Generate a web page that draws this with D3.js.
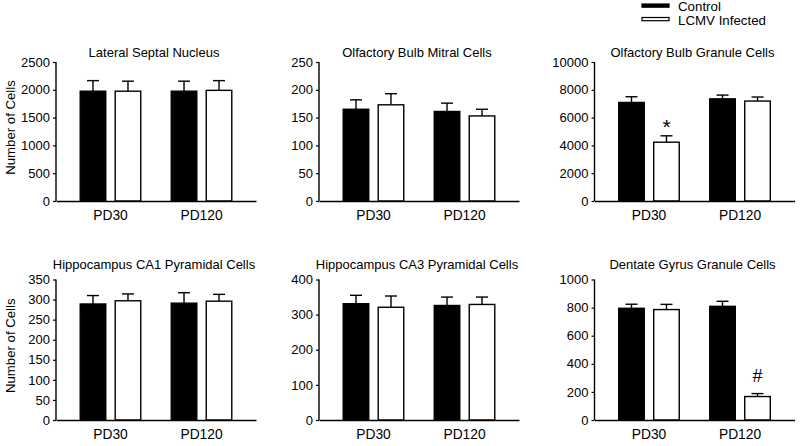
<!DOCTYPE html>
<html>
<head>
<meta charset="utf-8">
<script src="https://cdn.jsdelivr.net/npm/d3@7"></script>
<style>
  html, body { margin: 0; padding: 0; background: #fff; }
  svg { display: block; font-family: Arial, "Liberation Sans", Helvetica, sans-serif; }
</style>
</head>
<body>
<svg id="chart" width="800" height="446"></svg>
<script>
// ---------------- data ----------------
const groups = ["PD30", "PD120"];
const series = ["Control", "LCMV Infected"];
const panelTitles = [
  "Lateral Septal Nucleus",
  "Olfactory Bulb Mitral Cells",
  "Olfactory Bulb Granule Cells",
  "Hippocampus CA1  Pyramidal Cells",
  "Hippocampus CA3 Pyramidal Cells",
  "Dentate Gyrus Granule Cells"
];
const controlMeans = [[1975, 1975], [165, 161], [7090, 7350], [289, 291], [331, 326], [795, 809]];
const lcmvMeans    = [[1975, 1990], [173, 153], [4230, 7190], [297, 296], [321, 329], [786, 167]];
const controlErr   = [[190, 180], [17, 15], [410, 270], [21, 26], [24, 24], [29, 36]];
const lcmvErr      = [[180, 175], [20, 12], [460, 290], [17, 17], [32, 21], [37, 21]];
const yMax      = [2500, 250, 10000, 350, 400, 1000];
const tickStep  = [500, 50, 2000, 50, 100, 200];
const yLabels   = ["Number of Cells", "", "", "Number of Cells", "", ""];
// significance marks: [panel, series index, group index, symbol]
const marks = [[2, 1, 0, "*"], [5, 1, 1, "#"]];

// ---------------- layout ----------------
const svg = d3.select("#chart");
const colX = [56, 319, 594.5];
const rowTop = [62, 279.5];
const rowBottom = [201, 420];
const rowTitleY = [57, 268.5];
const plotW = 200;
const fills = ["#000", "#fff"];

panelTitles.forEach((title, p) => {
  const col = p % 3, row = Math.floor(p / 3);
  const x0 = colX[col], top = rowTop[row], bottom = rowBottom[row];
  const g = svg.append("g").attr("transform", `translate(${x0},0)`);

  const y = d3.scaleLinear().domain([0, yMax[p]]).range([bottom, top]);
  const xg = d3.scaleBand().domain(groups).range([0, plotW]).paddingInner(0.335).paddingOuter(0.266);
  const xs = d3.scaleBand().domain(series).range([0, xg.bandwidth()]).paddingInner(0.27).paddingOuter(0);

  const data = [];
  groups.forEach((grp, gi) => {
    series.forEach((s, si) => {
      const mean = si === 0 ? controlMeans[p][gi] : lcmvMeans[p][gi];
      const err = si === 0 ? controlErr[p][gi] : lcmvErr[p][gi];
      data.push({ grp, gi, s, si, mean, err });
    });
  });

  // error bars (one-sided, upward)
  const capHalf = 6;
  data.forEach(d => {
    const cx = xg(d.grp) + xs(d.s) + xs.bandwidth() / 2;
    g.append("line").attr("x1", cx).attr("x2", cx)
      .attr("y1", y(d.mean)).attr("y2", y(d.mean + d.err))
      .attr("stroke", "#000").attr("stroke-width", 1.4);
    g.append("line").attr("x1", cx - capHalf).attr("x2", cx + capHalf)
      .attr("y1", y(d.mean + d.err)).attr("y2", y(d.mean + d.err))
      .attr("stroke", "#000").attr("stroke-width", 1.4);
  });

  // bars
  g.selectAll("rect.bar").data(data).enter().append("rect")
    .attr("class", "bar")
    .attr("x", d => xg(d.grp) + xs(d.s))
    .attr("width", xs.bandwidth())
    .attr("y", d => y(d.mean))
    .attr("height", d => y(0) - y(d.mean))
    .attr("fill", d => fills[d.si])
    .attr("stroke", "#000").attr("stroke-width", 1.4);

  // y axis
  const ticks = d3.range(0, yMax[p] + 1e-9, tickStep[p]);
  const yAxis = g.append("g").call(d3.axisLeft(y).tickValues(ticks).tickSize(3).tickPadding(3).tickFormat(d3.format("d")));
  yAxis.select(".domain").attr("stroke-width", 1.4).attr("d", `M0,${y(0)}V${y(yMax[p])}`);
  yAxis.selectAll(".tick line").attr("stroke-width", 1.2);
  yAxis.selectAll("text").attr("font-size", 13).attr("fill", "#000")
    .attr("font-family", "Arial, 'Liberation Sans', sans-serif");

  // x axis
  const xAxis = g.append("g").attr("transform", `translate(0,${bottom})`)
    .call(d3.axisBottom(xg).tickSize(0).tickPadding(9));
  xAxis.select(".domain").attr("stroke-width", 1.4);
  xAxis.selectAll("text").attr("font-size", 13.8).attr("fill", "#000")
    .attr("font-family", "Arial, 'Liberation Sans', sans-serif");

  // title
  g.append("text").attr("x", plotW / 2 - 2).attr("y", rowTitleY[row])
    .attr("text-anchor", "middle").attr("font-size", 13).text(title);

  // y label
  if (yLabels[p]) {
    svg.append("text")
      .attr("transform", `translate(${x0 - 41},${(top + bottom) / 2 - 4}) rotate(-90)`)
      .attr("text-anchor", "middle").attr("font-size", 13.2).text(yLabels[p]);
  }

  // significance marks
  marks.filter(m => m[0] === p).forEach(m => {
    const d = data.find(dd => dd.si === m[1] && dd.gi === m[2]);
    const cx = xg(d.grp) + xs(d.s) + xs.bandwidth() / 2;
    const yy = y(d.mean + d.err);
    g.append("text").attr("x", cx).attr("y", m[3] === "*" ? yy - 2 : yy - 12)
      .attr("text-anchor", "middle")
      .attr("font-size", m[3] === "*" ? 21 : 18)
      .text(m[3]);
  });
});

// legend
const legend = svg.append("g").attr("transform", "translate(642,0)");
series.forEach((s, i) => {
  legend.append("rect").attr("x", 0).attr("y", 4 + i * 13.5).attr("width", 27).attr("height", 3.2)
    .attr("fill", fills[i]).attr("stroke", "#000").attr("stroke-width", 1.2);
  legend.append("text").attr("x", 36).attr("y", 10.5 + i * 14.5)
    .attr("font-size", 13.3).text(s);
});
</script>
</body>
</html>
